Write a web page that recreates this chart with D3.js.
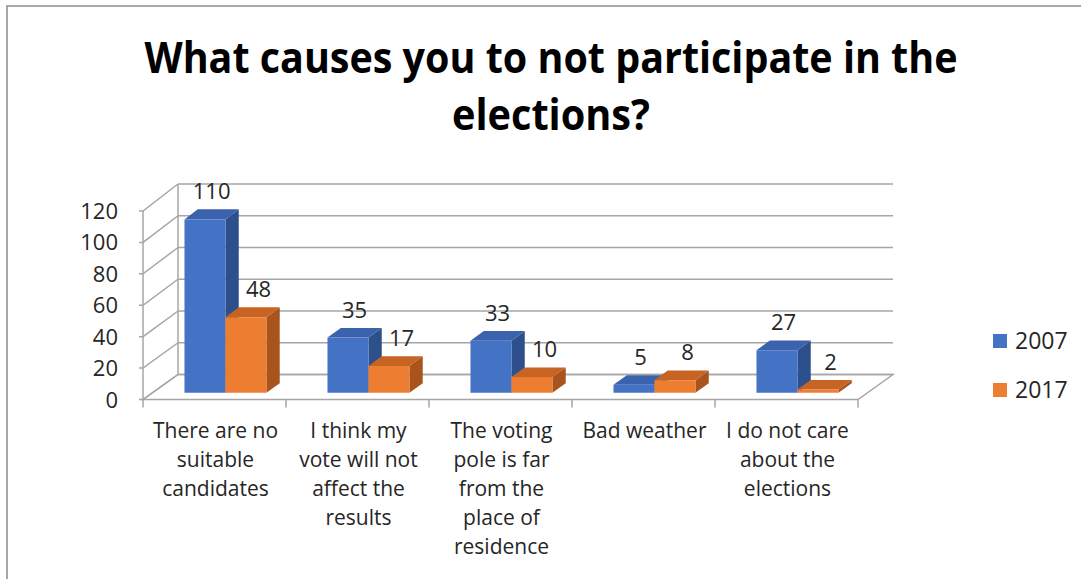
<!DOCTYPE html>
<html><head><meta charset="utf-8">
<script src="https://cdn.jsdelivr.net/npm/d3@7"></script>
<style>html,body{margin:0;padding:0;background:#fff;}svg{display:block;}</style>
</head><body>
<svg id="chart" width="1081" height="579"></svg>
<script>
const title = ["What causes you to not participate in the", "elections?"];
const categories = [
  ["There are no", "suitable", "candidates"],
  ["I think my", "vote will not", "affect the", "results"],
  ["The voting", "pole is far", "from the", "place of", "residence"],
  ["Bad weather"],
  ["I do not care", "about the", "elections"]
];
const seriesNames = ["2007", "2017"];
const values2007 = [110, 35, 33, 5, 27];
const values2017 = [48, 17, 10, 8, 2];
const yTicks = [0, 20, 40, 60, 80, 100, 120];

const series = [
  {name: seriesNames[0], values: values2007, front: "#4472C4", side: "#2D4F8C", top: "#3A62AD", labelDx: 0},
  {name: seriesNames[1], values: values2017, front: "#ED7D31", side: "#A9541C", top: "#C76424", labelDx: 6}
];

const svg = d3.select("#chart");
const FONT = "'Open Sans', sans-serif";
const GRID = "#A6A6A6";

// chart border
svg.append("rect").attr("x", 7).attr("y", 6).attr("width", 1100).attr("height", 600)
  .attr("fill", "none").attr("stroke", "#8C8C8C").attr("stroke-width", 1.5);

// title
const titleLayout = [{y: 73, w: 813}, {y: 130, w: 198}];
title.forEach((t, i) => {
  svg.append("text").attr("x", 551).attr("y", titleLayout[i].y)
    .attr("text-anchor", "middle").attr("font-family", FONT).attr("font-weight", 700)
    .attr("font-size", 43).attr("fill", "#000")
    .attr("textLength", titleLayout[i].w).attr("lengthAdjust", "spacingAndGlyphs").text(t);
});

// 3D projection: z=0 front plane, z=1 back wall
const DX = 35;
const xFront = d3.scaleBand().domain(d3.range(categories.length)).range([143, 858]).paddingInner(0).paddingOuter(0);
const bw = xFront.bandwidth();
const xSeries = d3.scaleBand().domain(d3.range(series.length)).range([0.224 * bw, 0.797 * bw]).padding(0);
function yAt(z) {
  return d3.scaleLinear().domain([0, 120]).range([399.5 - 25 * z, 211 - 27 * z]);
}
function P(x, v, z) { return [x + z * DX, yAt(z)(v)]; }
const line = d3.line();

const yF = yAt(0);
const x0 = xFront.range()[0], x1 = xFront.range()[1];

// floor
svg.append("path").attr("d", line([P(x0, 0, 0), P(x1, 0, 0), P(x1, 0, 1), P(x0, 0, 1)]) + "Z")
  .attr("fill", "none").attr("stroke", GRID).attr("stroke-width", 1.5);

// back wall grid lines + left wall diagonals
yTicks.forEach(v => {
  svg.append("path").attr("d", line([P(x0, v, 1), P(x1, v, 1)]))
    .attr("stroke", GRID).attr("stroke-width", 1.5).attr("fill", "none");
  svg.append("path").attr("d", line([[x0 - 4, yF(v)], P(x0, v, 0), P(x0, v, 1)]))
    .attr("stroke", GRID).attr("stroke-width", 1.5).attr("fill", "none");
});
// wall vertical edges
svg.append("path").attr("d", line([P(x0, 0, 0), P(x0, 120, 0)])).attr("stroke", GRID).attr("stroke-width", 1.5);
svg.append("path").attr("d", line([P(x0, 0, 1), P(x0, 120, 1)])).attr("stroke", GRID).attr("stroke-width", 1.5);

// category ticks
d3.range(categories.length + 1).forEach(i => {
  const x = x0 + i * bw;
  svg.append("path").attr("d", line([[x, yF(0)], [x, yF(0) + 8]])).attr("stroke", GRID).attr("stroke-width", 1.5);
});

// y tick labels
yTicks.forEach(v => {
  svg.append("text").attr("x", 118).attr("y", yF(v) + 8).attr("text-anchor", "end")
    .attr("font-family", FONT).attr("font-size", 22).attr("fill", "#262626").text(v);
});

// bars
const z0 = 0.27, z1 = 0.65, zm = 0.46;
categories.forEach((c, ci) => {
  series.forEach((s, si) => {
    const v = s.values[ci];
    const xa = xFront(ci) + xSeries(si);
    const xb = xa + xSeries.bandwidth();
    const g = svg.append("g");
    g.append("path").attr("d", line([P(xb, 0, z0), P(xb, 0, z1), P(xb, v, z1), P(xb, v, z0)]) + "Z")
      .attr("fill", s.side);
    g.append("path").attr("d", line([P(xa, v, z0), P(xb, v, z0), P(xb, v, z1), P(xa, v, z1)]) + "Z")
      .attr("fill", s.top);
    g.append("path").attr("d", line([P(xa, 0, z0), P(xb, 0, z0), P(xb, v, z0), P(xa, v, z0)]) + "Z")
      .attr("fill", s.front);
  });
});

// value labels
categories.forEach((c, ci) => {
  series.forEach((s, si) => {
    const v = s.values[ci];
    const xc = xFront(ci) + xSeries(si) + xSeries.bandwidth() / 2;
    const p = P(xc, v, zm);
    svg.append("text").attr("x", p[0] + s.labelDx).attr("y", p[1] - 15)
      .attr("text-anchor", "middle").attr("font-family", FONT).attr("font-size", 22)
      .attr("fill", "#262626").text(v);
  });
});

// category labels
categories.forEach((lines, ci) => {
  const cx = xFront(ci) + bw / 2 + 1;
  lines.forEach((l, li) => {
    svg.append("text").attr("x", cx).attr("y", 438 + li * 29).attr("text-anchor", "middle")
      .attr("font-family", FONT).attr("font-size", 21).attr("fill", "#262626").text(l);
  });
});

// legend
series.forEach((s, si) => {
  const y = 334 + si * 49;
  svg.append("rect").attr("x", 993).attr("y", y).attr("width", 14).attr("height", 14).attr("fill", s.front);
  svg.append("text").attr("x", 1015).attr("y", y + 15).attr("font-family", FONT).attr("font-size", 23)
    .attr("fill", "#262626").text(s.name);
});
</script>
</body></html>
